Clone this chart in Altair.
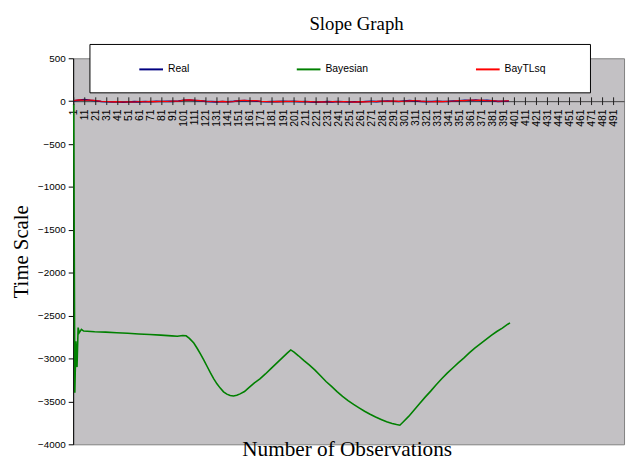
import altair as alt
import pandas as pd

# ---------------- data ----------------
series_names = ["Real", "Bayesian", "BayTLsq"]
series_colors = ["#000080", "#008000", "#FF0000"]

# near-zero series, sampled every 5 observations (1, 6, 11, ... 396)
noise_obs = list(range(1, 397, 5))
real_vals = [5, 12, 18, 10, 4, -3, -6, -10, -8, -12,
             -9, -5, -8, -3, -6, -2, -4, 0, -2, 3,
             10, 12, 8, 5, -2, -5, -8, -4, -6, -2,
             4, 8, 5, 2, -4, -6, -3, -5, -2, -4,
             -2, -6, -3, -8, -12, -9, -5, -8, -4, -7,
             -10, -6, -9, -4, -2, -5, 0, 3, -1, -3,
             2, 6, 3, -2, -5, -3, -1, -4, -2, 2,
             5, 10, 8, 12, 6, 9, 4, -2, 0, 2]
baytlsq_vals = [8, 15, 10, 14, 6, 0, -4, -8, -5, -10,
                -6, -9, -4, -7, -2, -5, 0, -3, 2, 0,
                12, 15, 10, 6, 0, -4, -6, -2, -8, -3,
                6, 10, 4, 7, -2, -4, -6, -2, -5, 0,
                -4, -2, -7, -5, -10, -6, -9, -4, -8, -3,
                -7, -11, -5, -8, -3, -2, 2, 0, 4, -2,
                0, 4, 7, 1, -3, -6, -2, -5, 0, 3,
                8, 6, 14, 9, 12, 5, 8, 0, 3, 5]

bayes_obs = [1, 2, 3, 4, 5, 6, 8, 10, 20, 30, 40, 50, 60, 70, 80, 90, 95, 100,
             103, 106, 110, 113, 116, 119, 122, 125, 128, 131, 134, 137, 140,
             143, 146, 149, 152, 156, 160, 165, 170, 175, 180, 185, 190, 195,
             198, 201, 205, 210, 215, 220, 225, 230, 235, 240, 245, 250, 255,
             260, 265, 270, 275, 280, 285, 290, 294, 297, 300, 305, 310, 315,
             320, 325, 330, 335, 340, 345, 350, 355, 360, 365, 370, 375, 380,
             385, 390, 395, 397]
bayes_vals = [-30, -3400, -2800, -3100, -2640, -2700, -2660, -2680, -2688,
              -2692, -2699, -2706, -2714, -2720, -2727, -2736, -2741, -2732,
              -2735, -2765, -2820, -2880, -2945, -3015, -3090, -3165, -3235,
              -3295, -3345, -3388, -3415, -3432, -3437, -3428, -3412, -3385,
              -3340, -3285, -3237, -3180, -3118, -3057, -2995, -2935, -2900,
              -2925, -2968, -3025, -3078, -3135, -3200, -3268, -3325, -3385,
              -3440, -3490, -3535, -3575, -3615, -3650, -3682, -3710, -3737,
              -3757, -3770, -3778, -3740, -3675, -3600, -3525, -3450, -3380,
              -3305, -3235, -3170, -3110, -3050, -2995, -2935, -2880, -2830,
              -2780, -2730, -2685, -2645, -2600, -2584]

tick_labels = list(range(1, 500, 10))
y_ticks = list(range(-4000, 501, 500))

rows = []
for o, v in zip(noise_obs, real_vals):
    rows.append({"series": "Real", "obs": o, "value": v})
for o, v in zip(bayes_obs, bayes_vals):
    rows.append({"series": "Bayesian", "obs": o, "value": v})
for o, v in zip(noise_obs, baytlsq_vals):
    rows.append({"series": "BayTLsq", "obs": o, "value": v})
df = pd.DataFrame(rows)
ticks_df = pd.DataFrame({"obs": tick_labels})

# ---------------- chart ----------------
W, H = 558, 391
x_scale = alt.Scale(domain=[0.5, 500.5], nice=False, zero=False)
y_scale = alt.Scale(domain=[-4000, 500], nice=False, zero=False)
zero_offset = -(H - H * 500 / 4500)

legend = alt.Legend(
    orient="none", legendX=66, legendY=-2, direction="horizontal",
    title=None, padding=0,
    labelFont="Liberation Sans", labelFontSize=10.5, labelColor="black",
    symbolType="stroke", symbolSize=576, symbolStrokeWidth=2,
    labelOffset=4, columnPadding=104.5,
)
color = alt.Color("series:N", scale=alt.Scale(domain=series_names, range=series_colors),
                  legend=legend)

x_axis = alt.Axis(
    values=tick_labels, labelAngle=-90, labelFontSize=10.5, labelFont="Liberation Sans",
    labelColor="black", ticks=False, labelPadding=8, labelOverlap=False,
    labelFlush=False, labelBound=False, domainColor="#404040", grid=False,
    offset=zero_offset, title="Number of Observations", titleFont="Liberation Serif",
    titleFontSize=21.5, titleFontWeight="normal", titleColor="black",
    titleX=277, titleY=358.5, titleBaseline="alphabetic", titleAlign="center",
)
y_axis = alt.Axis(
    values=y_ticks, format="d", tickSize=5, tickColor="black", domainColor="black",
    labelFont="Liberation Sans", labelFontSize=10, labelColor="black",
    labelPadding=3, labelFlush=False, labelOverlap=False, grid=False,
    title="Time Scale", titleFont="Liberation Serif", titleFontSize=21,
    titleFontWeight="normal", titleColor="black", titleX=-52, titleY=195.5,
    titleAngle=-90, titleBaseline="middle", titleAlign="center",
)

X = lambda f: alt.X(f, scale=x_scale, axis=x_axis)
Y = lambda f: alt.Y(f, scale=y_scale, axis=y_axis)

base = alt.Chart(df)

# white legend frame (decoration, in pixels)
legend_box = alt.Chart(ticks_df).mark_rect(
    fill="white", stroke="black", strokeWidth=1
).encode(
    x=alt.value(17), x2=alt.value(524), y=alt.value(-14), y2=alt.value(35)
).transform_filter(alt.datum.obs == 1)

# cross tick marks on the category axis at y = 0
axis_ticks = alt.Chart(ticks_df).mark_rule(color="#202020", strokeWidth=1).encode(
    x=X("obs:Q"),
    y=alt.Y(datum=-45, scale=y_scale, axis=y_axis),
    y2=alt.Y2(datum=45),
)


def series_layer(name, width):
    return base.transform_filter(alt.datum.series == name).mark_line(
        strokeWidth=width
    ).encode(x=X("obs:Q"), y=Y("value:Q"), color=color)


chart = alt.layer(
    legend_box,
    series_layer("Real", 1.6),
    series_layer("Bayesian", 1.6),
    series_layer("BayTLsq", 1.1),
    axis_ticks,
).properties(
    width=W, height=H,
    title=alt.TitleParams("Slope Graph", font="Liberation Serif", fontSize=19,
                          fontWeight="normal", color="black", anchor="middle",
                          frame="group", offset=10, dx=8),
    autosize=alt.AutoSizeParams(type="none"),
    padding={"left": 66, "top": 48, "right": 4, "bottom": 16},
).configure(
    background="white",
    view=alt.ViewConfig(fill="#C3C1C4", stroke="#808080"),
)

chart.save("out.html", embed_options={"renderer": "svg", "actions": False})
